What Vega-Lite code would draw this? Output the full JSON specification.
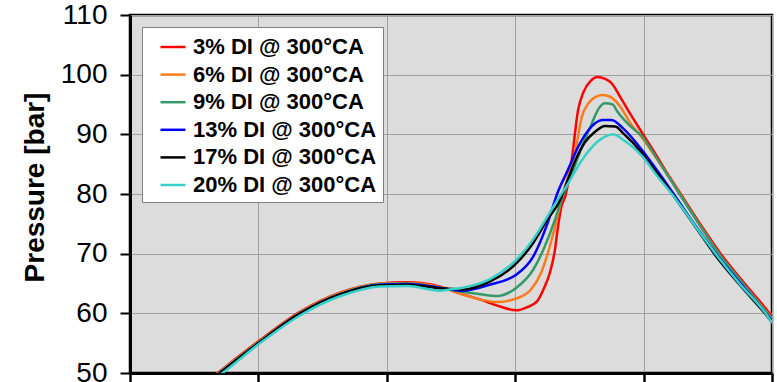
{
  "$schema": "https://vega.github.io/schema/vega-lite/v6.json",
  "width": 642,
  "height": 358,
  "autosize": {"type": "none"},
  "padding": {"left": 130, "top": 15, "right": 5, "bottom": 9},
  "background": "white",
  "config": {
    "view": {"fill": "#DCDCDC", "stroke": "#000000", "strokeWidth": 2.5},
    "font": "Liberation Sans"
  },
  "data": {"values": [
    {"s":"3% DI @ 300°CA","ca":346.0,"p":48.6},{"s":"3% DI @ 300°CA","ca":347.0,"p":50.3},{"s":"3% DI @ 300°CA","ca":350.0,"p":55.3},{"s":"3% DI @ 300°CA","ca":353.2,"p":60.2},{"s":"3% DI @ 300°CA","ca":356.4,"p":63.5},{"s":"3% DI @ 300°CA","ca":359.5,"p":65.0},{"s":"3% DI @ 300°CA","ca":361.6,"p":65.2},{"s":"3% DI @ 300°CA","ca":364.1,"p":64.5},{"s":"3% DI @ 300°CA","ca":365.9,"p":63.2},{"s":"3% DI @ 300°CA","ca":367.3,"p":62.3},{"s":"3% DI @ 300°CA","ca":368.6,"p":61.3},{"s":"3% DI @ 300°CA","ca":370.1,"p":60.5},{"s":"3% DI @ 300°CA","ca":370.9,"p":61.0},{"s":"3% DI @ 300°CA","ca":371.7,"p":62.0},{"s":"3% DI @ 300°CA","ca":372.2,"p":64.0},{"s":"3% DI @ 300°CA","ca":372.7,"p":66.8},{"s":"3% DI @ 300°CA","ca":373.1,"p":70.7},{"s":"3% DI @ 300°CA","ca":373.3,"p":74.0},{"s":"3% DI @ 300°CA","ca":373.6,"p":77.9},{"s":"3% DI @ 300°CA","ca":373.9,"p":79.6},{"s":"3% DI @ 300°CA","ca":374.4,"p":85.7},{"s":"3% DI @ 300°CA","ca":374.9,"p":94.1},{"s":"3% DI @ 300°CA","ca":375.3,"p":97.0},{"s":"3% DI @ 300°CA","ca":375.9,"p":99.0},{"s":"3% DI @ 300°CA","ca":376.4,"p":99.6},{"s":"3% DI @ 300°CA","ca":377.0,"p":99.3},{"s":"3% DI @ 300°CA","ca":377.5,"p":98.6},{"s":"3% DI @ 300°CA","ca":378.2,"p":96.2},{"s":"3% DI @ 300°CA","ca":379.0,"p":93.3},{"s":"3% DI @ 300°CA","ca":379.9,"p":90.2},{"s":"3% DI @ 300°CA","ca":380.9,"p":86.8},{"s":"3% DI @ 300°CA","ca":381.8,"p":83.6},{"s":"3% DI @ 300°CA","ca":382.8,"p":80.3},{"s":"3% DI @ 300°CA","ca":384.4,"p":75.0},{"s":"3% DI @ 300°CA","ca":386.0,"p":70.0},{"s":"3% DI @ 300°CA","ca":387.9,"p":64.9},{"s":"3% DI @ 300°CA","ca":389.8,"p":60.0},{"s":"3% DI @ 300°CA","ca":390.0,"p":59.4},
    {"s":"6% DI @ 300°CA","ca":346.0,"p":48.5},{"s":"6% DI @ 300°CA","ca":347.0,"p":50.2},{"s":"6% DI @ 300°CA","ca":350.0,"p":55.2},{"s":"6% DI @ 300°CA","ca":353.2,"p":60.1},{"s":"6% DI @ 300°CA","ca":356.4,"p":63.4},{"s":"6% DI @ 300°CA","ca":359.5,"p":65.0},{"s":"6% DI @ 300°CA","ca":361.6,"p":65.1},{"s":"6% DI @ 300°CA","ca":364.1,"p":64.4},{"s":"6% DI @ 300°CA","ca":365.9,"p":63.2},{"s":"6% DI @ 300°CA","ca":367.3,"p":62.3},{"s":"6% DI @ 300°CA","ca":368.6,"p":61.9},{"s":"6% DI @ 300°CA","ca":370.1,"p":62.5},{"s":"6% DI @ 300°CA","ca":371.2,"p":63.9},{"s":"6% DI @ 300°CA","ca":372.0,"p":66.7},{"s":"6% DI @ 300°CA","ca":372.6,"p":70.5},{"s":"6% DI @ 300°CA","ca":373.1,"p":74.5},{"s":"6% DI @ 300°CA","ca":373.6,"p":79.0},{"s":"6% DI @ 300°CA","ca":374.1,"p":82.9},{"s":"6% DI @ 300°CA","ca":374.7,"p":87.4},{"s":"6% DI @ 300°CA","ca":375.2,"p":93.0},{"s":"6% DI @ 300°CA","ca":375.7,"p":95.2},{"s":"6% DI @ 300°CA","ca":376.2,"p":96.2},{"s":"6% DI @ 300°CA","ca":376.8,"p":96.6},{"s":"6% DI @ 300°CA","ca":377.4,"p":96.3},{"s":"6% DI @ 300°CA","ca":378.2,"p":94.6},{"s":"6% DI @ 300°CA","ca":379.0,"p":91.8},{"s":"6% DI @ 300°CA","ca":379.9,"p":89.4},{"s":"6% DI @ 300°CA","ca":380.9,"p":86.3},{"s":"6% DI @ 300°CA","ca":381.8,"p":83.4},{"s":"6% DI @ 300°CA","ca":382.8,"p":80.1},{"s":"6% DI @ 300°CA","ca":384.3,"p":75.0},{"s":"6% DI @ 300°CA","ca":385.9,"p":69.9},{"s":"6% DI @ 300°CA","ca":387.8,"p":64.8},{"s":"6% DI @ 300°CA","ca":389.7,"p":59.9},{"s":"6% DI @ 300°CA","ca":390.0,"p":59.1},
    {"s":"9% DI @ 300°CA","ca":346.0,"p":48.4},{"s":"9% DI @ 300°CA","ca":347.0,"p":50.1},{"s":"9% DI @ 300°CA","ca":350.0,"p":55.1},{"s":"9% DI @ 300°CA","ca":353.2,"p":60.0},{"s":"9% DI @ 300°CA","ca":356.4,"p":63.3},{"s":"9% DI @ 300°CA","ca":359.5,"p":64.9},{"s":"9% DI @ 300°CA","ca":361.6,"p":65.0},{"s":"9% DI @ 300°CA","ca":364.1,"p":64.3},{"s":"9% DI @ 300°CA","ca":365.9,"p":63.6},{"s":"9% DI @ 300°CA","ca":367.3,"p":63.2},{"s":"9% DI @ 300°CA","ca":368.6,"p":62.9},{"s":"9% DI @ 300°CA","ca":370.1,"p":64.3},{"s":"9% DI @ 300°CA","ca":371.4,"p":67.3},{"s":"9% DI @ 300°CA","ca":372.3,"p":71.2},{"s":"9% DI @ 300°CA","ca":373.1,"p":75.7},{"s":"9% DI @ 300°CA","ca":373.6,"p":79.0},{"s":"9% DI @ 300°CA","ca":374.1,"p":81.7},{"s":"9% DI @ 300°CA","ca":374.9,"p":86.2},{"s":"9% DI @ 300°CA","ca":375.5,"p":89.5},{"s":"9% DI @ 300°CA","ca":376.0,"p":92.0},{"s":"9% DI @ 300°CA","ca":376.5,"p":94.3},{"s":"9% DI @ 300°CA","ca":377.0,"p":95.2},{"s":"9% DI @ 300°CA","ca":377.6,"p":95.0},{"s":"9% DI @ 300°CA","ca":377.9,"p":94.0},{"s":"9% DI @ 300°CA","ca":378.9,"p":91.5},{"s":"9% DI @ 300°CA","ca":379.9,"p":89.6},{"s":"9% DI @ 300°CA","ca":380.9,"p":86.4},{"s":"9% DI @ 300°CA","ca":381.8,"p":83.4},{"s":"9% DI @ 300°CA","ca":382.8,"p":80.0},{"s":"9% DI @ 300°CA","ca":384.3,"p":75.0},{"s":"9% DI @ 300°CA","ca":385.9,"p":69.9},{"s":"9% DI @ 300°CA","ca":387.8,"p":64.8},{"s":"9% DI @ 300°CA","ca":389.7,"p":59.8},{"s":"9% DI @ 300°CA","ca":390.0,"p":59.0},
    {"s":"13% DI @ 300°CA","ca":346.0,"p":48.3},{"s":"13% DI @ 300°CA","ca":347.0,"p":50.0},{"s":"13% DI @ 300°CA","ca":350.0,"p":55.0},{"s":"13% DI @ 300°CA","ca":353.2,"p":59.9},{"s":"13% DI @ 300°CA","ca":356.4,"p":63.2},{"s":"13% DI @ 300°CA","ca":359.5,"p":64.8},{"s":"13% DI @ 300°CA","ca":361.6,"p":64.9},{"s":"13% DI @ 300°CA","ca":364.1,"p":64.3},{"s":"13% DI @ 300°CA","ca":365.9,"p":63.8},{"s":"13% DI @ 300°CA","ca":368.0,"p":64.8},{"s":"13% DI @ 300°CA","ca":370.1,"p":66.5},{"s":"13% DI @ 300°CA","ca":371.4,"p":69.5},{"s":"13% DI @ 300°CA","ca":372.5,"p":75.0},{"s":"13% DI @ 300°CA","ca":373.3,"p":80.2},{"s":"13% DI @ 300°CA","ca":374.1,"p":84.0},{"s":"13% DI @ 300°CA","ca":374.9,"p":87.9},{"s":"13% DI @ 300°CA","ca":375.7,"p":90.7},{"s":"13% DI @ 300°CA","ca":376.2,"p":91.8},{"s":"13% DI @ 300°CA","ca":376.8,"p":92.4},{"s":"13% DI @ 300°CA","ca":377.5,"p":92.4},{"s":"13% DI @ 300°CA","ca":378.4,"p":91.0},{"s":"13% DI @ 300°CA","ca":379.9,"p":87.3},{"s":"13% DI @ 300°CA","ca":380.7,"p":85.0},{"s":"13% DI @ 300°CA","ca":381.5,"p":82.6},{"s":"13% DI @ 300°CA","ca":382.5,"p":79.5},{"s":"13% DI @ 300°CA","ca":384.1,"p":74.5},{"s":"13% DI @ 300°CA","ca":385.7,"p":69.8},{"s":"13% DI @ 300°CA","ca":387.7,"p":64.6},{"s":"13% DI @ 300°CA","ca":389.6,"p":59.8},{"s":"13% DI @ 300°CA","ca":390.0,"p":58.7},
    {"s":"17% DI @ 300°CA","ca":346.0,"p":48.3},{"s":"17% DI @ 300°CA","ca":347.0,"p":50.0},{"s":"17% DI @ 300°CA","ca":350.0,"p":55.0},{"s":"17% DI @ 300°CA","ca":353.2,"p":59.9},{"s":"17% DI @ 300°CA","ca":356.4,"p":63.2},{"s":"17% DI @ 300°CA","ca":359.5,"p":64.7},{"s":"17% DI @ 300°CA","ca":361.6,"p":64.8},{"s":"17% DI @ 300°CA","ca":364.1,"p":64.2},{"s":"17% DI @ 300°CA","ca":365.9,"p":64.0},{"s":"17% DI @ 300°CA","ca":368.0,"p":65.3},{"s":"17% DI @ 300°CA","ca":370.1,"p":68.4},{"s":"17% DI @ 300°CA","ca":371.4,"p":71.8},{"s":"17% DI @ 300°CA","ca":372.5,"p":75.7},{"s":"17% DI @ 300°CA","ca":373.5,"p":79.0},{"s":"17% DI @ 300°CA","ca":373.9,"p":81.2},{"s":"17% DI @ 300°CA","ca":374.7,"p":85.7},{"s":"17% DI @ 300°CA","ca":375.4,"p":88.6},{"s":"17% DI @ 300°CA","ca":376.2,"p":90.4},{"s":"17% DI @ 300°CA","ca":377.0,"p":91.4},{"s":"17% DI @ 300°CA","ca":377.8,"p":91.3},{"s":"17% DI @ 300°CA","ca":378.4,"p":90.2},{"s":"17% DI @ 300°CA","ca":379.9,"p":86.8},{"s":"17% DI @ 300°CA","ca":380.7,"p":84.5},{"s":"17% DI @ 300°CA","ca":381.5,"p":82.2},{"s":"17% DI @ 300°CA","ca":382.5,"p":79.2},{"s":"17% DI @ 300°CA","ca":384.1,"p":74.3},{"s":"17% DI @ 300°CA","ca":385.6,"p":69.7},{"s":"17% DI @ 300°CA","ca":387.6,"p":64.5},{"s":"17% DI @ 300°CA","ca":389.6,"p":59.6},{"s":"17% DI @ 300°CA","ca":390.0,"p":58.5},
    {"s":"20% DI @ 300°CA","ca":346.0,"p":48.2},{"s":"20% DI @ 300°CA","ca":347.2,"p":50.0},{"s":"20% DI @ 300°CA","ca":350.0,"p":54.8},{"s":"20% DI @ 300°CA","ca":353.2,"p":59.6},{"s":"20% DI @ 300°CA","ca":356.4,"p":62.9},{"s":"20% DI @ 300°CA","ca":359.5,"p":64.5},{"s":"20% DI @ 300°CA","ca":361.6,"p":64.6},{"s":"20% DI @ 300°CA","ca":364.1,"p":63.8},{"s":"20% DI @ 300°CA","ca":364.9,"p":64.0},{"s":"20% DI @ 300°CA","ca":365.9,"p":64.3},{"s":"20% DI @ 300°CA","ca":368.0,"p":65.7},{"s":"20% DI @ 300°CA","ca":370.1,"p":69.0},{"s":"20% DI @ 300°CA","ca":371.4,"p":72.4},{"s":"20% DI @ 300°CA","ca":372.5,"p":76.2},{"s":"20% DI @ 300°CA","ca":373.3,"p":79.0},{"s":"20% DI @ 300°CA","ca":374.1,"p":81.7},{"s":"20% DI @ 300°CA","ca":375.2,"p":85.7},{"s":"20% DI @ 300°CA","ca":376.0,"p":87.9},{"s":"20% DI @ 300°CA","ca":377.0,"p":89.6},{"s":"20% DI @ 300°CA","ca":377.6,"p":90.0},{"s":"20% DI @ 300°CA","ca":378.4,"p":89.1},{"s":"20% DI @ 300°CA","ca":379.9,"p":86.3},{"s":"20% DI @ 300°CA","ca":381.0,"p":83.2},{"s":"20% DI @ 300°CA","ca":382.2,"p":80.0},{"s":"20% DI @ 300°CA","ca":383.1,"p":77.4},{"s":"20% DI @ 300°CA","ca":384.3,"p":73.8},{"s":"20% DI @ 300°CA","ca":385.6,"p":70.0},{"s":"20% DI @ 300°CA","ca":387.5,"p":64.9},{"s":"20% DI @ 300°CA","ca":389.5,"p":60.0},{"s":"20% DI @ 300°CA","ca":390.0,"p":58.4}
  ]},
  "mark": {"type": "line", "clip": true, "strokeWidth": 2.5, "interpolate": "monotone"},
  "encoding": {
    "x": {
      "field": "ca", "type": "quantitative",
      "scale": {"domain": [340, 390], "nice": false, "zero": false},
      "axis": {
        "title": null, "labels": false, "values": [340, 350, 360, 370, 380, 390],
        "domainColor": "#000000", "domainWidth": 3,
        "tickColor": "#000000", "tickWidth": 2.5, "tickSize": 9,
        "grid": true, "gridColor": "#A0A0A0", "gridWidth": 1
      }
    },
    "y": {
      "field": "p", "type": "quantitative",
      "scale": {"domain": [50, 110], "nice": false, "zero": false},
      "axis": {
        "title": "Pressure [bar]", "values": [50, 60, 70, 80, 90, 100, 110],
        "titleFont": "Liberation Sans", "titleFontSize": 28, "titleFontWeight": "bold", "titleColor": "#000000",
        "titleX": -87, "titleY": 172, "titleAngle": -90, "titleAlign": "center", "titleBaseline": "alphabetic",
        "labelFont": "Liberation Sans", "labelFontSize": 28, "labelColor": "#000000", "labelPadding": 13,
        "domainColor": "#000000", "domainWidth": 3,
        "tickColor": "#000000", "tickWidth": 2, "tickSize": 10,
        "grid": true, "gridColor": "#A0A0A0", "gridWidth": 1
      }
    },
    "color": {
      "field": "s", "type": "nominal",
      "scale": {
        "domain": ["3% DI @ 300°CA", "6% DI @ 300°CA", "9% DI @ 300°CA", "13% DI @ 300°CA", "17% DI @ 300°CA", "20% DI @ 300°CA"],
        "range": ["#FF0000", "#FF7A1A", "#349A6A", "#0000FF", "#000000", "#36CFC9"]
      },
      "legend": {
        "title": null, "orient": "none", "legendX": 12, "legendY": 12,
        "fillColor": "#FFFFFF", "strokeColor": "#808080", "padding": 6,
        "symbolType": "stroke", "symbolSize": 625, "symbolStrokeWidth": 2.5, "symbolOffset": 11,
        "labelFont": "Liberation Sans", "labelFontSize": 22, "labelFontWeight": "bold", "labelColor": "#000000",
        "labelOffset": 6, "rowPadding": 2.6, "labelLimit": 400
      }
    }
  }
}
